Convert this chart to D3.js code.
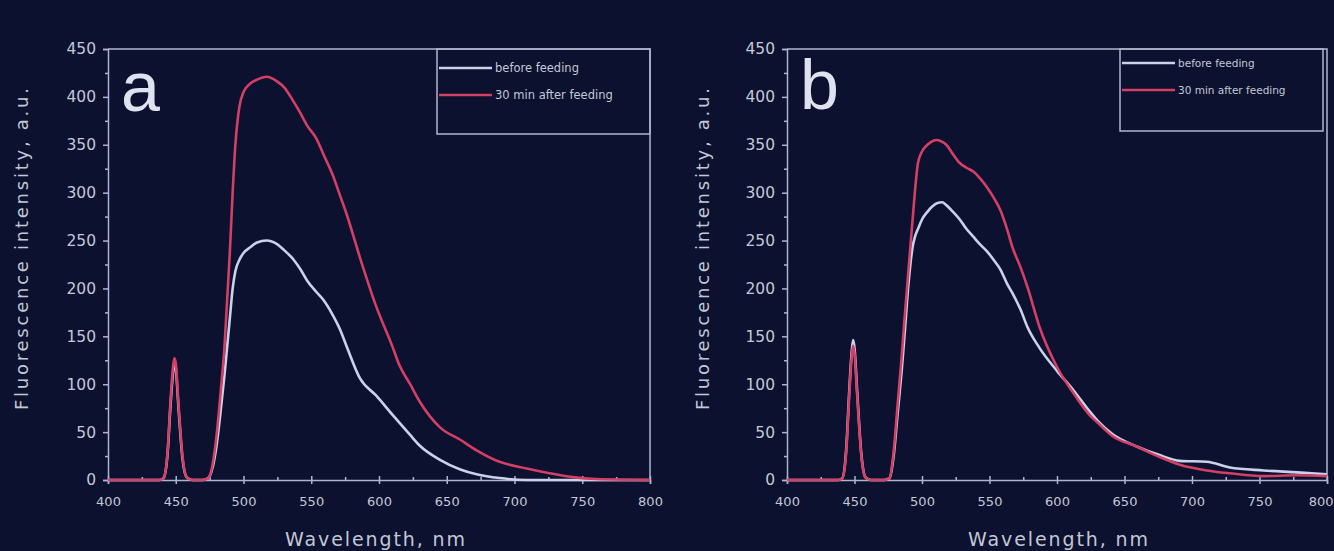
<!DOCTYPE html>
<html>
<head>
<meta charset="utf-8">
<script src="https://cdn.jsdelivr.net/npm/d3@7"></script>
<style>
  body { margin: 0; background: #0b112e; }
  text { font-family: "DejaVu Sans", "Liberation Sans", Arial, sans-serif; }
</style>
</head>
<body>
<div id="chart"></div>
<script>
// Panel a: wavelength grid and the two spectra
const wlA = [400, 438, 441, 444, 446, 448, 449, 450, 452, 455, 458, 462, 470, 474, 477, 480, 483, 486, 488, 490,
  492, 494, 497, 500, 505, 510, 517, 525, 530, 537, 542, 547, 554, 559, 566, 571, 576, 586, 598, 610,
  615, 623, 630, 645, 660, 672, 689, 709, 726, 743, 760, 800];
const beforeA = [0, 0, 2, 28, 75, 112, 122, 117, 76, 22, 3, 0, 0, 2, 12, 35, 70, 110, 140, 170,
  200, 218, 230, 237, 243, 248, 250, 246, 240, 230, 220, 208, 196, 188, 172, 158, 140, 106, 88, 68,
  60, 47, 36, 21, 11, 6, 2, 0, 0, 0, 0, 0];
const afterA = [0, 0, 2, 30, 80, 118, 127, 122, 80, 25, 3, 0, 0, 2, 15, 45, 90, 140, 190, 240,
  300, 350, 390, 405, 414, 418, 421, 416, 410, 395, 383, 370, 356, 340, 318, 298, 278, 232, 181, 139,
  120, 100, 82, 55, 42, 31, 19, 12, 7, 3, 1, 0];

// Panel b
const wlB = [400, 438, 441, 444, 446, 448, 449, 450, 452, 455, 458, 462, 472, 476, 479, 482, 485, 487, 490, 493,
  495, 497, 500, 504, 508, 511, 515, 518, 523, 528, 533, 538, 543, 548, 553, 558, 563, 567, 573, 578,
  587, 600, 612, 624, 630, 641, 659, 676, 691, 711, 728, 753, 778, 800];
const beforeB = [0, 0, 2, 35, 90, 135, 146, 138, 92, 28, 3, 0, 0, 2, 25, 70, 115, 150, 205, 243,
  255, 262, 272, 280, 286, 289, 290, 287, 280, 272, 262, 254, 246, 239, 230, 220, 205, 195, 178, 160,
  138, 114, 94, 72, 62, 48, 35, 26, 20, 19, 13, 10, 8, 6];
const afterB = [0, 0, 2, 32, 85, 130, 140, 132, 88, 26, 3, 0, 0, 2, 30, 80, 130, 167, 220, 271,
  305, 331, 343, 350, 354, 355, 353, 350, 340, 331, 326, 322, 315, 306, 295, 282, 262, 243, 222, 202,
  160, 118, 91, 68, 60, 46, 35, 24, 16, 10, 7, 4, 5, 4];

const xTicks = [400, 450, 500, 550, 600, 650, 700, 750, 800];
const xMinor = [425, 475, 525, 575, 625, 675, 725, 775];
const yTicks = [0, 50, 100, 150, 200, 250, 300, 350, 400, 450];
const yMinor = [25, 75, 125, 175, 225, 275, 325, 375, 425];
const seriesNames = ["before feeding", "30 min after feeding"];
const letters = ["a", "b"];

const W = 1334, H = 551;
const axisColor = "#aeb6cf";
const textColor = "#c3c8d6";
const colors = ["#c9d2ea", "#d43f66"];

const svg = d3.select("#chart").append("svg")
  .attr("width", W)
  .attr("height", H);

svg.append("rect").attr("width", W).attr("height", H).attr("fill", "#0b112e");

// plot boxes for the two panels
const panels = [
  {left: 108, right: 650, wl: wlA, series: [beforeA, afterA], legend: {x: 437, w: 213, h: 85, y1: 68, gap: 27}, labelX: 375, yLabelX: 22},
  {left: 787, right: 1327, wl: wlB, series: [beforeB, afterB], legend: {x: 1120, w: 203, h: 82, y1: 63, gap: 27}, labelX: 1058, yLabelX: 703}
];
const plotTop = 49, plotBottom = 480;

panels.forEach((p, i) => {
  const g = svg.append("g");
  const x = d3.scaleLinear().domain([400, 800]).range([p.left, p.right]);
  const y = d3.scaleLinear().domain([0, 450]).range([plotBottom, plotTop]);

  // frame top + right
  g.append("path")
    .attr("d", `M${p.left},${plotTop}H${p.right}V${plotBottom}`)
    .attr("fill", "none")
    .attr("stroke", axisColor)
    .attr("stroke-width", 1.5);

  // x axis
  const xa = g.append("g")
    .attr("transform", `translate(0,${plotBottom})`)
    .call(d3.axisBottom(x).tickValues(xTicks).tickSize(4).tickPadding(13));
  xa.selectAll(".tick line").attr("y1", -4);
  const xm = g.append("g")
    .attr("transform", `translate(0,${plotBottom})`)
    .call(d3.axisBottom(x).tickValues(xMinor).tickSize(-3).tickFormat(""));
  xm.select(".domain").remove();

  // y axis
  const ya = g.append("g")
    .attr("transform", `translate(${p.left},0)`)
    .call(d3.axisLeft(y).tickValues(yTicks).tickSize(5).tickPadding(7));
  const ym = g.append("g")
    .attr("transform", `translate(${p.left},0)`)
    .call(d3.axisLeft(y).tickValues(yMinor).tickSize(3).tickFormat(""));
  ym.select(".domain").remove();

  g.selectAll(".domain, .tick line")
    .attr("stroke", axisColor)
    .attr("stroke-width", 1.5);
  xa.selectAll(".tick text")
    .attr("fill", textColor)
    .style("font-size", "13px");
  // last label would run past the window edge on panel b
  if (i === 1) xa.selectAll(".tick text").filter(d => d === 800).attr("text-anchor", "end").attr("dx", 6);
  ya.selectAll(".tick text")
    .attr("fill", textColor)
    .style("font-size", "15.5px");

  // axis titles
  g.append("text")
    .attr("x", p.labelX)
    .attr("y", 546)
    .attr("text-anchor", "middle")
    .attr("fill", textColor)
    .attr("textLength", 180)
    .style("font-size", "19px")
    .text("Wavelength, nm");

  g.append("text")
    .attr("transform", `translate(${p.yLabelX + 6},249) rotate(-90)`)
    .attr("text-anchor", "middle")
    .attr("fill", textColor)
    .attr("textLength", 322)
    .style("font-size", "18px")
    .text("Fluorescence intensity, a.u.");

  // curves
  const line = d3.line()
    .x((d, j) => x(p.wl[j]))
    .y(d => y(d))
    .curve(d3.curveMonotoneX);

  p.series.forEach((s, k) => {
    g.append("path")
      .datum(s)
      .attr("fill", "none")
      .attr("stroke", colors[k])
      .attr("stroke-width", 2.6)
      .attr("stroke-linejoin", "round")
      .attr("d", line);
  });

  // legend
  const L = p.legend;
  g.append("rect")
    .attr("x", L.x).attr("y", plotTop)
    .attr("width", L.w).attr("height", L.h)
    .attr("fill", "none")
    .attr("stroke", axisColor)
    .attr("stroke-width", 1.5);
  seriesNames.forEach((name, k) => {
    const ly = L.y1 + k * L.gap;
    g.append("line")
      .attr("x1", L.x + 2).attr("x2", L.x + 55)
      .attr("y1", ly).attr("y2", ly)
      .attr("stroke", colors[k])
      .attr("stroke-width", 2.6);
    g.append("text")
      .attr("x", L.x + 58)
      .attr("y", ly + 4)
      .attr("fill", textColor)
      .style("font-size", i === 0 ? "11.5px" : "10.5px")
      .text(name);
  });

  // panel letter
  g.append("text")
    .attr("x", p.left + 13)
    .attr("y", i === 0 ? 111 : 109)
    .attr("fill", "#dfe3ef")
    .style("font-family", "'Liberation Sans', Arial, sans-serif")
    .style("font-size", "70px")
    .text(letters[i]);
});
</script>
</body>
</html>
